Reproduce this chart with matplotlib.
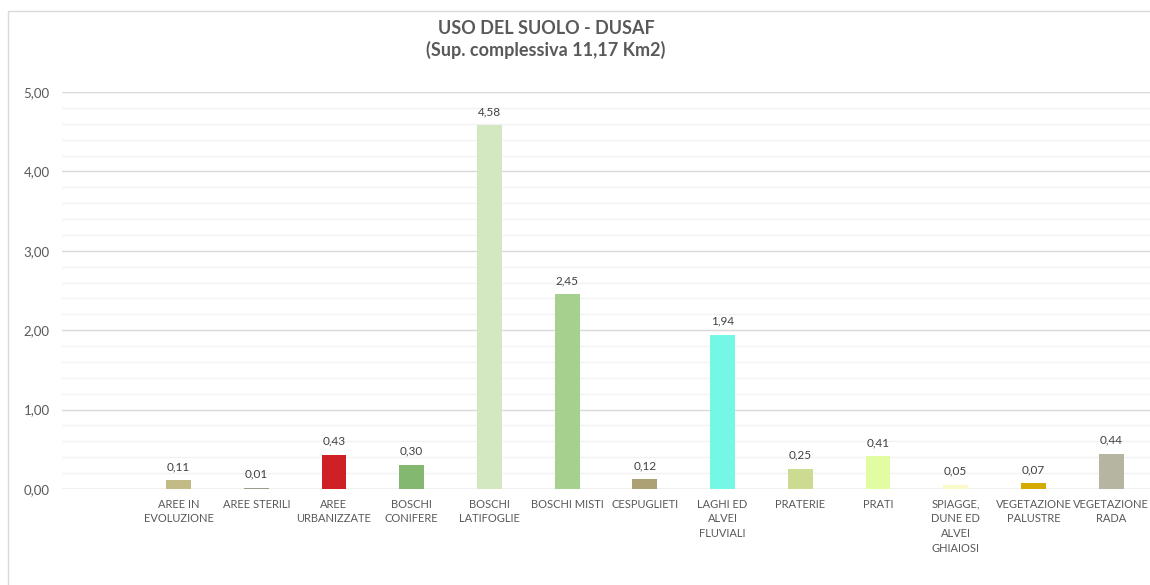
import matplotlib.pyplot as plt
from matplotlib.lines import Line2D
from matplotlib.ticker import MultipleLocator, FuncFormatter

plt.rcParams['font.family'] = ['Lato', 'DejaVu Sans']

categorie = ['', 'AREE IN\nEVOLUZIONE', 'AREE STERILI', 'AREE\nURBANIZZATE',
             'BOSCHI\nCONIFERE', 'BOSCHI\nLATIFOGLIE', 'BOSCHI MISTI', 'CESPUGLIETI',
             'LAGHI ED\nALVEI\nFLUVIALI', 'PRATERIE', 'PRATI',
             'SPIAGGE,\nDUNE ED\nALVEI\nGHIAIOSI', 'VEGETAZIONE\nPALUSTRE',
             'VEGETAZIONE\nRADA']
superfici = [None, 0.11, 0.01, 0.43, 0.30, 4.58, 2.45, 0.12, 1.94, 0.25, 0.41, 0.05, 0.07, 0.44]
colori = [None, '#c3bb85', '#9c9c88', '#cf2026', '#82b870', '#d3e8c1', '#a5d08e', '#aba175',
          '#74f7e5', '#cbdb91', '#e2fca1', '#fafac8', '#d4ab00', '#b6b5a2']

grigio = '#595959'

fig = plt.figure(figsize=(11.5, 5.85), dpi=100)
ax = fig.add_axes([62 / 1150, 1 - 489 / 585, 1 - 62 / 1150, (489 - 92) / 585])

x = [i for i, v in enumerate(superfici) if v is not None]
valori = [superfici[i] for i in x]
barre = ax.bar(x, valori, width=0.32, color=[colori[i] for i in x], zorder=3)

for xi, v in zip(x, valori):
    ax.annotate(f'{v:.2f}'.replace('.', ','), (xi, v), xytext=(0, 6),
                textcoords='offset points', ha='center', va='bottom',
                fontsize=8.5, color='#404040')

ax.set_xlim(-0.5, len(categorie) - 0.5)
ax.set_ylim(0, 5)
ax.set_xticks(range(1, len(categorie)))
ax.set_xticklabels(categorie[1:], fontsize=8, color=grigio, linespacing=1.4)
ax.yaxis.set_major_locator(MultipleLocator(1))
ax.yaxis.set_minor_locator(MultipleLocator(0.2))
ax.yaxis.set_major_formatter(FuncFormatter(lambda v, p: f'{v:.2f}'.replace('.', ',')))
ax.tick_params(axis='y', which='both', length=0, labelsize=9.5, labelcolor=grigio, pad=9)
ax.tick_params(axis='x', length=0, pad=7)
ax.grid(axis='y', which='major', color='#d9d9d9', linewidth=1, zorder=0)
ax.grid(axis='y', which='minor', color='#f2f2f2', linewidth=1, zorder=0)
for s in ax.spines.values():
    s.set_visible(False)
ax.axhline(0, color='#d9d9d9', linewidth=1, zorder=2)

# bordo dell'area grafico
fig.add_artist(Line2D([8 / 1150, 8 / 1150, 1], [0, 1 - 11 / 585, 1 - 11 / 585],
                      transform=fig.transFigure, color='#d9d9d9', linewidth=1))

fig.text(546 / 1150, 1 - 28 / 585, 'USO DEL SUOLO - DUSAF', ha='center', va='center',
         fontsize=13, fontweight='bold', color=grigio)
fig.text(546 / 1150, 1 - 50 / 585, '(Sup. complessiva 11,17 Km2)', ha='center', va='center',
         fontsize=13, fontweight='bold', color=grigio)

fig.savefig('out.png', dpi=100)
